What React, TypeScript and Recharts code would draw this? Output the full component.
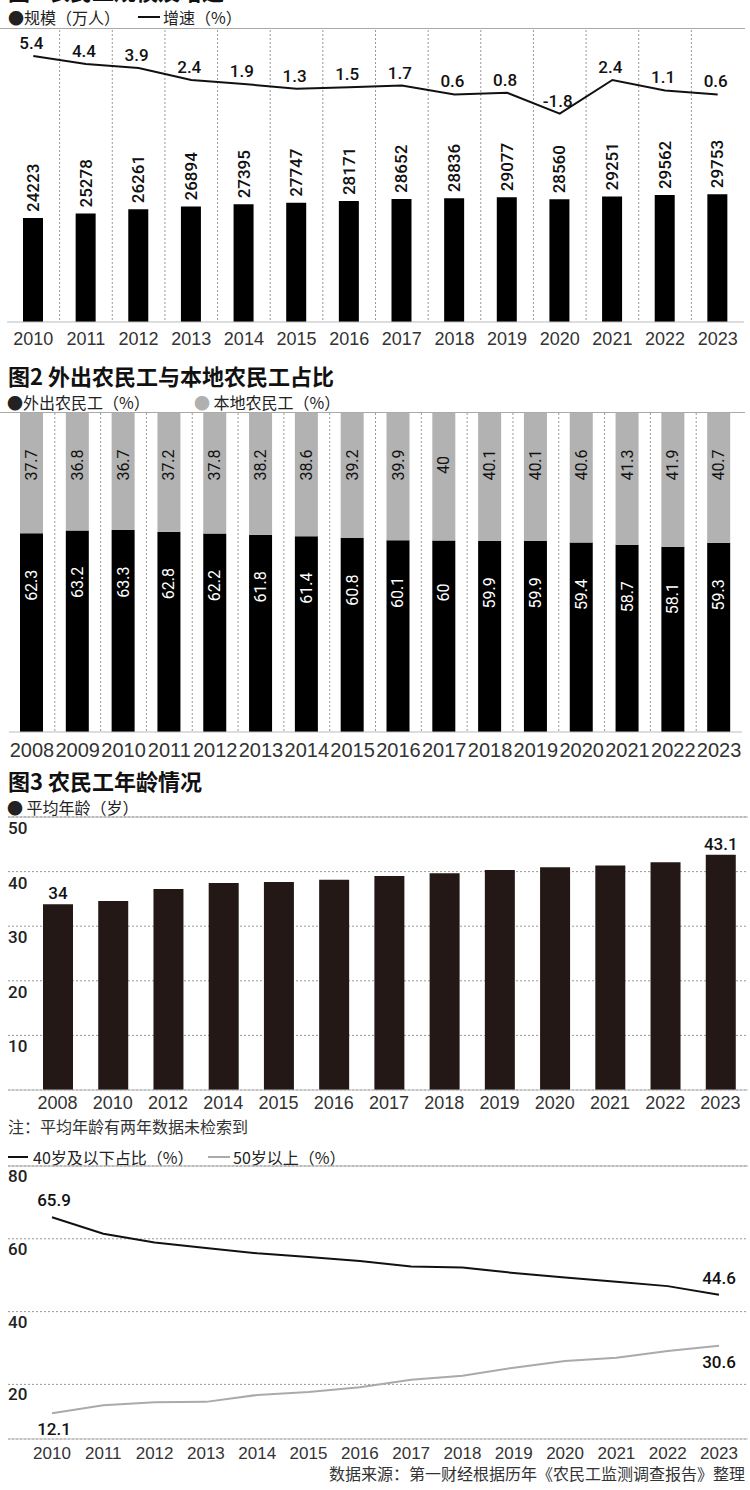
import React from 'react';
import {
  ComposedChart,
  BarChart,
  LineChart,
  Bar,
  Line,
  XAxis,
  YAxis,
  CartesianGrid,
  LabelList,
  ReferenceLine,
} from 'recharts';

// 图1 农民工规模及增速
const years1 = ['2010', '2011', '2012', '2013', '2014', '2015', '2016', '2017', '2018', '2019', '2020', '2021', '2022', '2023'];
const scale1 = [24223, 25278, 26261, 26894, 27395, 27747, 28171, 28652, 28836, 29077, 28560, 29251, 29562, 29753];
const growth1 = [5.4, 4.4, 3.9, 2.4, 1.9, 1.3, 1.5, 1.7, 0.6, 0.8, -1.8, 2.4, 1.1, 0.6];

// 图2 外出农民工与本地农民工占比
const years2 = ['2008', '2009', '2010', '2011', '2012', '2013', '2014', '2015', '2016', '2017', '2018', '2019', '2020', '2021', '2022', '2023'];
const migrant2 = [62.3, 63.2, 63.3, 62.8, 62.2, 61.8, 61.4, 60.8, 60.1, 60, 59.9, 59.9, 59.4, 58.7, 58.1, 59.3];
const local2 = [37.7, 36.8, 36.7, 37.2, 37.8, 38.2, 38.6, 39.2, 39.9, 40, 40.1, 40.1, 40.6, 41.3, 41.9, 40.7];

// 图3 农民工年龄情况
const years3 = ['2008', '2010', '2012', '2014', '2015', '2016', '2017', '2018', '2019', '2020', '2021', '2022', '2023'];
const avgAge3 = [34, 34.6, 36.8, 37.9, 38.1, 38.5, 39.2, 39.7, 40.3, 40.8, 41.1, 41.7, 43.1];
const ageTicks3 = [10, 20, 30, 40, 50];

// 年龄结构
const years4 = ['2010', '2011', '2012', '2013', '2014', '2015', '2016', '2017', '2018', '2019', '2020', '2021', '2022', '2023'];
const under40 = [65.9, 61.4, 59.0, 57.5, 56.0, 55.0, 53.9, 52.4, 52.1, 50.6, 49.4, 48.2, 47.0, 44.6];
const over50 = [12.1, 14.3, 15.1, 15.2, 17.1, 17.9, 19.2, 21.3, 22.4, 24.6, 26.4, 27.3, 29.2, 30.6];
const ageTicks4 = [20, 40, 60, 80];

const data1 = years1.map((year, i) => ({ year, scale: scale1[i], growth: growth1[i] }));
const data2 = years2.map((year, i) => ({ year, migrant: migrant2[i], local: local2[i] }));
const data3 = years3.map((year, i) => ({ year, age: avgAge3[i] }));
const data4 = years4.map((year, i) => ({ year, under40: under40[i], over50: over50[i] }));

const CJK = '"Noto Sans CJK SC", "Noto Sans", sans-serif';
const NUM = 'Roboto, "Noto Sans", sans-serif';
const AX = '"Liberation Sans", Arial, sans-serif';

// dotted separators between categories
const bandLines = (n: number) => (props: any) => {
  const o = props.offset;
  const step = o.width / n;
  return Array.from({ length: n - 1 }, (_, i) => o.left + step * (i + 1));
};

const xTick = (size: number, dy: number) => (p: any) => (
  <text x={p.x} y={p.y + dy} textAnchor="middle" fontSize={size} fontFamily={AX} fill="#333">
    {p.payload.value}
  </text>
);

const yTick = (dy: number) => (p: any) => (
  <text x={p.x} y={p.y + dy} textAnchor="start" fontSize={17} fontWeight={500} fontFamily={NUM} fill="#222">
    {p.payload.value}
  </text>
);

const ScaleLabel = (p: any) => {
  const cx = p.x + p.width / 2;
  const cy = p.y - 6;
  return (
    <text x={cx} y={cy} transform={`rotate(-90 ${cx} ${cy})`} textAnchor="start" dominantBaseline="central"
      fontSize={17} fontWeight={500} fontFamily={NUM} fill="#111">
      {p.value}
    </text>
  );
};

const RateLabel = (p: any) => (
  <text x={p.x - 2} y={p.y - 7} textAnchor="middle" fontSize={17} fontWeight={500} fontFamily={NUM} fill="#111">
    {p.value}
  </text>
);

const shareLabel = (color: string) => (p: any) => {
  const cx = p.x + p.width / 2;
  const cy = p.y + 52;
  return (
    <text x={cx} y={cy} transform={`rotate(-90 ${cx} ${cy})`} textAnchor="middle" dominantBaseline="central"
      fontSize={16} fontFamily={NUM} fill={color}>
      {p.value}
    </text>
  );
};

const EndsBarLabel = (p: any) => {
  if (p.index !== 0 && p.index !== years3.length - 1) return null;
  return (
    <text x={p.x + p.width / 2} y={p.y - 5} textAnchor="middle" fontSize={17} fontWeight={500} fontFamily={NUM} fill="#111">
      {p.value}
    </text>
  );
};

const endsLineLabel = (dy: number) => (p: any) => {
  if (p.index !== 0 && p.index !== years4.length - 1) return null;
  return (
    <text x={p.x + (p.index === 0 ? 2 : 0)} y={p.y + dy} textAnchor="middle" fontSize={17} fontWeight={500} fontFamily={NUM} fill="#111">
      {p.value}
    </text>
  );
};

const txt = (left: number, top: number, size: number, content: React.ReactNode, extra: React.CSSProperties = {}) => (
  <div style={{ position: 'absolute', left, top, fontSize: size, lineHeight: `${size + 2}px`, fontFamily: CJK, color: '#222', whiteSpace: 'nowrap', ...extra }}>
    {content}
  </div>
);

const rule = (left: number, top: number, width: number, color = '#aaa', h = 1) => (
  <div style={{ position: 'absolute', left, top, width, height: h, background: color }} />
);

export default function App() {
  return (
    <div style={{ position: 'absolute', left: 0, top: 0, width: 750, height: 1490, background: '#fff', overflow: 'hidden' }}>
      {/* 图1 */}
      {txt(8, -21, 22, '图1 农民工规模及增速', { fontWeight: 700, color: '#111', lineHeight: '22px' })}
      {txt(8, 8, 16, '●规模（万人）')}
      {rule(138, 16, 22, '#111', 2)}
      {txt(163, 8, 16, '增速（%）')}
      {rule(0, 28, 745)}
      <div style={{ position: 'absolute', left: 0, top: 0 }}>
        <ComposedChart width={750} height={350} data={data1} margin={{ top: 30, right: 6, left: 7, bottom: 0 }}>
          <CartesianGrid horizontal={false} stroke="#999" strokeDasharray="2 2" verticalCoordinatesGenerator={bandLines(years1.length)} />
          <XAxis dataKey="year" height={28} tickLine={false} tickSize={0} tickMargin={0} axisLine={{ stroke: '#bbb' }} tick={xTick(18, 23)} interval={0} />
          <YAxis yAxisId="v" hide domain={[0, 68000]} />
          <YAxis yAxisId="r" hide domain={[-27.85, 8.65]} />
          <Bar yAxisId="v" dataKey="scale" fill="#000" barSize={20} isAnimationActive={false}>
            <LabelList dataKey="scale" content={ScaleLabel} />
          </Bar>
          <Line yAxisId="r" dataKey="growth" type="linear" stroke="#111" strokeWidth={2} dot={false} isAnimationActive={false}>
            <LabelList dataKey="growth" content={RateLabel} />
          </Line>
        </ComposedChart>
      </div>

      {/* 图2 */}
      {txt(8, 364, 22, '图2 外出农民工与本地农民工占比', { fontWeight: 700, color: '#111', lineHeight: '22px' })}
      {txt(7, 393, 16, '●外出农民工（%）')}
      {txt(194, 393, 16, <><span style={{ color: '#b0b0b0' }}>●</span> 本地农民工（%）</>)}
      {rule(0, 412, 745)}
      <div style={{ position: 'absolute', left: 0, top: 360 }}>
        <BarChart width={750} height={400} data={data2} margin={{ top: 53, right: 8, left: 9, bottom: 0 }}>
          <CartesianGrid horizontal={false} stroke="#999" strokeDasharray="2 2" verticalCoordinatesGenerator={bandLines(years2.length)} />
          <XAxis dataKey="year" height={28} tickLine={false} tickSize={0} tickMargin={0} axisLine={{ stroke: '#bbb' }} tick={xTick(20, 25)} interval={0} />
          <YAxis hide domain={[0, 100]} />
          <Bar dataKey="migrant" stackId="s" fill="#000" barSize={23} isAnimationActive={false}>
            <LabelList dataKey="migrant" content={shareLabel('#fff')} />
          </Bar>
          <Bar dataKey="local" stackId="s" fill="#b2b2b2" barSize={23} isAnimationActive={false}>
            <LabelList dataKey="local" content={shareLabel('#111')} />
          </Bar>
        </BarChart>
      </div>

      {/* 图3 */}
      {txt(8, 769, 22, '图3 农民工年龄情况', { fontWeight: 700, color: '#111', lineHeight: '22px' })}
      {txt(7, 798, 16, '● 平均年龄（岁）')}
      <div style={{ position: 'absolute', left: 0, top: 760 }}>
        <BarChart width={750} height={358} data={data3} margin={{ top: 57, right: 2, left: 7, bottom: 0 }}>
          <CartesianGrid vertical={false} stroke="#999" strokeDasharray="2 2" />
          <XAxis dataKey="year" height={28} tickLine={false} tickSize={0} tickMargin={0} axisLine={{ stroke: '#bbb' }} tick={xTick(18, 19)} interval={0} padding={{ left: 22, right: 0 }} />
          <YAxis width={1} domain={[0, 50]} ticks={ageTicks3} axisLine={false} tickLine={false} tickSize={0} tickMargin={0} tick={yTick(17)} />
          <ReferenceLine y={50} stroke="#aaa" />
          <Bar dataKey="age" fill="#231815" barSize={30} isAnimationActive={false}>
            <LabelList dataKey="age" content={EndsBarLabel} />
          </Bar>
        </BarChart>
      </div>
      {txt(8, 1117, 16, '注：平均年龄有两年数据未检索到', { color: '#333' })}

      {/* 年龄结构 */}
      {rule(8, 1156, 20, '#111', 2)}
      {txt(33, 1148, 16, '40岁及以下占比（%）')}
      {rule(208, 1156, 22, '#aaa', 2)}
      {txt(233, 1148, 16, '50岁以上（%）')}
      <div style={{ position: 'absolute', left: 0, top: 1140 }}>
        <LineChart width={750} height={327} data={data4} margin={{ top: 26, right: 2, left: 7, bottom: 0 }}>
          <CartesianGrid vertical={false} stroke="#999" strokeDasharray="2 2" />
          <XAxis dataKey="year" height={28} tickLine={false} tickSize={0} tickMargin={0} axisLine={{ stroke: '#bbb' }} tick={xTick(17, 20)} interval={0} padding={{ left: 44, right: 29 }} />
          <YAxis width={1} domain={[5, 80]} ticks={ageTicks4} axisLine={false} tickLine={false} tickSize={0} tickMargin={0} tick={yTick(16)} />
          <ReferenceLine y={80} stroke="#aaa" />
          <Line dataKey="under40" type="linear" stroke="#111" strokeWidth={2} dot={false} isAnimationActive={false}>
            <LabelList dataKey="under40" content={endsLineLabel(-11)} />
          </Line>
          <Line dataKey="over50" type="linear" stroke="#aaa" strokeWidth={2} dot={false} isAnimationActive={false}>
            <LabelList dataKey="over50" content={endsLineLabel(22)} />
          </Line>
        </LineChart>
      </div>
      {txt(0, 1464, 16, '数据来源：第一财经根据历年《农民工监测调查报告》整理', { left: 'auto', right: 5, color: '#333' })}
    </div>
  );
}
